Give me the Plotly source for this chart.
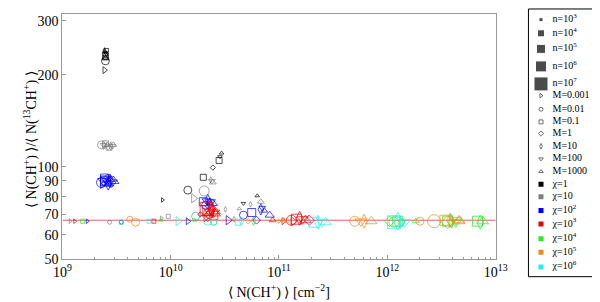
import plotly.graph_objects as go
import math

# ---------------- categories / labels ----------------
n_exps = [3, 4, 5, 6, 7]
n_labels = ["n=10<sup>3</sup>", "n=10<sup>4</sup>", "n=10<sup>5</sup>", "n=10<sup>6</sup>", "n=10<sup>7</sup>"]
M_values = [0.001, 0.01, 0.1, 1, 10, 100, 1000]
M_labels = ["M=0.001", "M=0.01", "M=0.1", "M=1", "M=10", "M=100", "M=1000"]
chi_labels = ["χ=1", "χ=10", "χ=10<sup>2</sup>", "χ=10<sup>3</sup>", "χ=10<sup>4</sup>", "χ=10<sup>5</sup>", "χ=10<sup>6</sup>"]

x_ticks = [1e9, 1e10, 1e11, 1e12, 1e13]
x_tick_text = ["10<sup>9</sup>", "10<sup>10</sup>", "10<sup>11</sup>", "10<sup>12</sup>", "10<sup>13</sup>"]
y_ticks = [50, 60, 70, 80, 90, 100, 200, 300]

ratio_ref = 67  # reference ratio line

# ---------------- series (one per chi) ----------------
chi1_x = [2.45e9, 2.5e9, 2.55e9, 2.5e9, 2.5e9, 2.5e9, 2.5e9, 2.45e9, 2.45e9, 2.55e9, 2.5e9,
          2.95e10, 2.85e10, 2.8e10, 2.45e10, 2.0e10, 1.44e10, 8.4e9, 1.88e10, 4.7e10, 6.3e10]
chi1_y = [238, 236, 234, 232, 230, 228, 222, 207, 240, 240, 226,
          111, 108, 105, 99.5, 92.5, 84, 78, 70, 76, 80.5]
chi1_n = [3, 3, 3, 3, 4, 3, 5, 4, 3, 3, 4,
          3, 3, 4, 3, 4, 5, 3, 3, 3, 3]
chi1_M = [1000, 100, 10, 1, 0.1, 0.1, 0.01, 0.001, 10, 0.1, 1000,
          1000, 100, 0.1, 1, 0.1, 0.01, 0.001, 1, 100, 1000]

chi10_x = [2.3e9, 2.45e9, 2.5e9, 2.65e9, 2.8e9, 2.9e9, 2.95e9, 2.4e9, 2.6e9, 2.7e9,
           2.35e10, 2.4e10, 2.45e10, 2.04e10, 1.63e10, 9.5e9, 8.2e9, 1.7e10,
           3.2e10, 5.46e10, 4.3e10, 6.8e10, 3.85e10, 2.73e9, 1.18e9]
chi10_y = [118, 117, 119, 116, 117, 117, 118, 118, 118, 116,
           91, 90, 89, 83.5, 79, 69, 68, 69,
           72.7, 75.5, 73, 77, 67.5, 66, 66.5]
chi10_n = [5, 4, 4, 3, 4, 4, 4, 4, 4, 4,
           3, 4, 4, 6, 5, 3, 3, 5,
           3, 3, 3, 4, 3, 3, 3]
chi10_M = [0.01, 0.001, 0.1, 1, 10, 100, 1000, 100, 1000, 0.1,
           10, 100, 1000, 0.01, 0.001, 0.1, 0.001, 0.01,
           10, 10, 1000, 1000, 10, 0.01, 0.001]

chi100_x = [2.3e9, 2.35e9, 2.5e9, 2.6e9, 2.75e9, 2.85e9, 2.95e9, 2.45e9, 2.7e9,
            2.4e9, 2.55e9, 2.65e9, 2.5e9, 2.8e9,
            2.0e10, 2.2e10, 2.35e10, 2.45e10, 2.1e10, 2.25e10, 2.15e10, 2.3e10,
            5.6e10, 4.7e10, 6.8e10, 7.0e10, 7.3e10, 8.2e10,
            3.4e10, 1.44e10, 1.7e9, 3.5e9, 6.2e10]
chi100_y = [89, 88, 90, 91, 90, 89, 90, 92, 88,
            90, 89, 88.5, 91.5, 91,
            77, 78, 77, 76, 75, 74.5, 77.5, 76,
            71, 69.6, 72.7, 73.5, 72, 69.6,
            67, 66.5, 66.5, 66, 67]
chi100_n = [6, 5, 6, 5, 6, 6, 6, 5, 5,
            6, 6, 6, 5, 5,
            5, 5, 5, 5, 5, 4, 5, 5,
            5, 5, 5, 4, 4, 5,
            5, 4, 3, 3, 4]
chi100_M = [0.01, 0.001, 0.1, 1, 10, 100, 1000, 0.1, 1000,
            100, 1000, 10, 100, 1000,
            0.1, 10, 100, 1000, 0.01, 1, 100, 10,
            0.1, 0.01, 10, 100, 1000, 1000,
            0.001, 0.001, 0.001, 0.01, 1]

chi1e3_x = [2.2e10, 2.4e10, 2.5e10, 2.55e10, 2.3e10, 2.2e10, 2.1e10,
            2.15e10, 2.35e10, 2.45e10, 2.3e10, 2.25e10, 2.5e10,
            1.3e9, 7.0e9, 8.75e10,
            1.3e11, 1.45e11, 1.55e11, 1.65e11, 1.75e11, 1.9e11, 1.35e11, 1.1e11]
chi1e3_y = [72, 72.5, 71, 70.5, 70, 69, 68,
            73, 73.5, 72, 71.5, 70.5, 69.5,
            66.5, 66.5, 67,
            67, 67.5, 68, 67.5, 67, 67, 66.5, 66.5]
chi1e3_n = [6, 6, 6, 6, 5, 5, 4,
            7, 6, 7, 6, 6, 5,
            3, 3, 4,
            6, 6, 6, 6, 6, 5, 5, 4]
chi1e3_M = [0.1, 10, 100, 1000, 0.01, 1, 0.001,
            0.1, 10, 1000, 100, 0.01, 0.1,
            0.001, 0.1, 1000,
            0.01, 0.1, 10, 100, 1000, 1, 0.001, 0.001]

chi1e4_x = [1.54e9, 8.1e9, 1.66e10, 2.5e10, 5.8e10,
            1.15e12, 1.25e12, 1.35e12, 1.83e12,
            3.6e12, 3.9e12, 4.3e12, 4.6e12,
            6.8e12, 7.2e12, 7.6e12, 1.05e12]
chi1e4_y = [66.5, 67, 67, 66, 66.5,
            66, 66.5, 66, 66.5,
            66.5, 66.5, 66, 66.5,
            66.5, 66, 66.5, 66.5]
chi1e4_n = [3, 3, 3, 4, 4,
            6, 6, 5, 4,
            6, 6, 6, 6,
            6, 6, 6, 5]
chi1e4_M = [0.1, 1000, 1000, 0.01, 10,
            0.01, 0.1, 0.001, 1000,
            0.1, 10, 100, 1000,
            0.1, 10, 1000, 1]

chi1e5_x = [4.2e9, 4.75e9, 5.2e10, 1.1e11,
            5.0e11, 5.7e11, 6.1e11, 7.1e11,
            2.0e12, 2.7e12,
            3.4e12, 3.8e12, 4.3e12, 4.6e12, 3.6e12,
            1.0e11, 1.2e11]
chi1e5_y = [67.5, 66, 66.5, 67,
            66.5, 66.5, 66.5, 66.5,
            66.5, 66.5,
            67, 67, 67, 67, 66,
            66.5, 66.5]
chi1e5_n = [4, 5, 3, 4,
            6, 6, 6, 6,
            5, 7,
            6, 6, 6, 6, 6,
            3, 3]
chi1e5_M = [0.01, 0.01, 1, 1000,
            0.01, 100, 10, 1000,
            0.01, 0.01,
            0.1, 10, 100, 1000, 1,
            0.001, 1]

chi1e6_x = [3.5e9, 6.3e9, 1.17e10, 2.5e10, 4.2e10, 4.5e10,
            2.1e11, 2.3e11, 2.5e11, 2.7e11,
            1.15e12, 1.25e12, 1.3e12, 1.45e12, 2.2e10]
chi1e6_y = [66, 66.5, 66.5, 66, 66, 66.5,
            66, 66, 66, 66,
            66, 66.5, 66, 66, 66.5]
chi1e6_n = [3, 3, 5, 4, 4, 4,
            6, 6, 6, 6,
            7, 7, 6, 6, 5]
chi1e6_M = [0.1, 0.1, 0.001, 0.01, 0.1, 10,
            0.1, 10, 100, 1000,
            0.1, 10, 0.01, 100, 0.01]

# ---------------- styles ----------------
chi_colors = ["#000000", "#808080", "#0000ee", "#ee0000", "#22ee22", "#ee8a1e", "#22eeee"]
M_symbols = ["triangle-right-open", "circle-open", "square-open", "diamond-open",
             "diamond-tall-open", "triangle-down-open", "triangle-up-open"]
n_sizes = {3: 4, 4: 6, 5: 8, 6: 10, 7: 13}
legend_n_sizes = [4, 7, 9, 11, 14]

series = [
    (chi1_x, chi1_y, chi1_n, chi1_M),
    (chi10_x, chi10_y, chi10_n, chi10_M),
    (chi100_x, chi100_y, chi100_n, chi100_M),
    (chi1e3_x, chi1e3_y, chi1e3_n, chi1e3_M),
    (chi1e4_x, chi1e4_y, chi1e4_n, chi1e4_M),
    (chi1e5_x, chi1e5_y, chi1e5_n, chi1e5_M),
    (chi1e6_x, chi1e6_y, chi1e6_n, chi1e6_M),
]

W, H = 600, 302
FONT = "Liberation Serif"

fig = go.Figure()

# reference ratio line
fig.add_trace(go.Scatter(x=[x_ticks[0], x_ticks[-1]], y=[ratio_ref, ratio_ref], mode="lines",
                         line=dict(color="#e06060", width=1), showlegend=False, hoverinfo="skip"))

for (xs, ys, ns, Ms), col in zip(series, chi_colors):
    fig.add_trace(go.Scatter(
        x=xs, y=ys, mode="markers", showlegend=False,
        marker=dict(symbol=[M_symbols[M_values.index(m)] for m in Ms],
                    size=[n_sizes[n] for n in ns],
                    color=col, line=dict(color=col, width=1)),
    ))

# ---------------- custom legend (own axes) ----------------
leg_x_marker = 543
leg_x_text = 555
leg_y_n = [12, 26, 42, 60, 78]
leg_y_M = [90, 104, 117, 129, 142, 155, 168]
leg_y_chi = [181, 194, 208, 222, 237, 251, 266]

fig.add_trace(go.Scatter(x=[leg_x_marker] * 5, y=leg_y_n, mode="markers", xaxis="x2", yaxis="y2",
                         marker=dict(symbol="square", size=legend_n_sizes, color="black"),
                         showlegend=False, hoverinfo="skip"))
fig.add_trace(go.Scatter(x=[leg_x_marker] * 7, y=leg_y_M, mode="markers", xaxis="x2", yaxis="y2",
                         marker=dict(symbol=M_symbols, size=4, color="#333333",
                                     line=dict(color="#333333", width=0.7)),
                         showlegend=False, hoverinfo="skip"))
fig.add_trace(go.Scatter(x=[leg_x_marker] * 7, y=leg_y_chi, mode="markers", xaxis="x2", yaxis="y2",
                         marker=dict(symbol="square", size=5, color=chi_colors),
                         showlegend=False, hoverinfo="skip"))
fig.add_trace(go.Scatter(x=[leg_x_text] * 19, y=leg_y_n + leg_y_M + leg_y_chi, mode="text",
                         xaxis="x2", yaxis="y2",
                         text=n_labels + M_labels + chi_labels, textposition="middle right",
                         textfont=dict(family=FONT, size=10, color="black"),
                         showlegend=False, hoverinfo="skip"))

x0, x1 = 47, 496
y0, y1 = 6, 258
axis_common = dict(showgrid=False, zeroline=False, linecolor="#999999", linewidth=1,
                   mirror=True, ticks="inside", tickcolor="#999999", ticklen=4,
                   tickfont=dict(family=FONT, size=14, color="black"))

minor_x = [m * 10 ** k for k in range(9, 13) for m in range(2, 10)]

fig.update_layout(
    width=W, height=H,
    margin=dict(l=0, r=0, t=0, b=0),
    paper_bgcolor="white", plot_bgcolor="white",
    font=dict(family=FONT),
    xaxis=dict(type="log", range=[9, 13], domain=[x0 / W, x1 / W],
               tickvals=x_ticks, ticktext=x_tick_text,
               minor=dict(tickvals=minor_x, ticks="inside", ticklen=2, tickcolor="#999999"),
               anchor="y", **axis_common),
    yaxis=dict(type="log", range=[math.log10(50), math.log10(316)],
               domain=[(H - y1) / H, (H - y0) / H],
               tickvals=y_ticks, ticktext=[str(v) for v in y_ticks],
               anchor="x", **axis_common),
    xaxis2=dict(domain=[530 / W, 598 / W], range=[530, 598], visible=False, anchor="y2"),
    yaxis2=dict(domain=[(H - 276) / H, (H - 1) / H], range=[276, 1], visible=False, anchor="x2"),
    shapes=[dict(type="rect", xref="paper", yref="paper",
                 x0=530 / W, x1=598 / W, y0=(H - 276) / H, y1=(H - 1) / H,
                 line=dict(color="black", width=1))],
    annotations=[
        dict(text="⟨ N(CH<sup>+</sup>) ⟩ [cm<sup>−2</sup>]", xref="paper", yref="paper",
             x=272 / W, y=(H - 291) / H, xanchor="center", yanchor="middle", showarrow=False,
             font=dict(family=FONT, size=14, color="black")),
        dict(text="⟨ N(CH<sup>+</sup>) ⟩/⟨ N(<sup>13</sup>CH<sup>+</sup>) ⟩", xref="paper", yref="paper",
             x=14 / W, y=(H - 135) / H, xanchor="center", yanchor="middle", showarrow=False,
             textangle=-90, font=dict(family=FONT, size=14, color="black")),
    ],
)

fig.write_html("out.html")
